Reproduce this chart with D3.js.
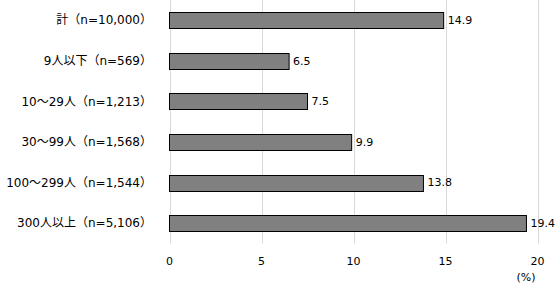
<!DOCTYPE html>
<html>
<head>
<meta charset="utf-8">
<script src="https://cdn.jsdelivr.net/npm/d3@7"></script>
<style>
  body { margin: 0; background: #fff; }
  text { font-family: "DejaVu Sans", "Noto Sans CJK JP", sans-serif; fill: #000; }
</style>
</head>
<body>
<svg width="555" height="284"></svg>
<script>
// categories and values
var categories = ['計（n=10,000）', '9人以下（n=569）', '10～29人（n=1,213）',
    '30～99人（n=1,568）', '100～299人（n=1,544）', '300人以上（n=5,106）'];
var values = [14.9, 6.5, 7.5, 9.9, 13.8, 19.4];
var ticks = [0, 5, 10, 15, 20];

var plotLeft = 169.5, plotRight = 537.5, plotTop = 0, plotBottom = 243.5;

var svg = d3.select('svg');

var x = d3.scaleLinear().domain([0, 20]).range([plotLeft, plotRight]);
var y = d3.scaleBand().domain(categories).range([plotTop, plotBottom]).paddingInner(0.6).paddingOuter(0.3);

// gridlines
svg.append('g')
    .selectAll('line')
    .data(ticks)
    .enter()
    .append('line')
    .attr('x1', function (d) { return Math.round(x(d)) + 0.5 })
    .attr('x2', function (d) { return Math.round(x(d)) + 0.5 })
    .attr('y1', plotTop)
    .attr('y2', plotBottom)
    .style('stroke', '#d9d9d9')
    .style('stroke-width', 1);

// tick labels
svg.append('g')
    .selectAll('text')
    .data(ticks)
    .enter()
    .append('text')
    .attr('x', function (d) { return x(d) })
    .attr('y', 261)
    .attr('dy', '0.35em')
    .attr('text-anchor', 'middle')
    .attr('font-size', '11px')
    .text(function (d) { return d });

svg.append('text')
    .attr('x', 526)
    .attr('y', 277)
    .attr('dy', '0.35em')
    .attr('text-anchor', 'middle')
    .attr('font-size', '11px')
    .text('(%)');

// bars
svg.append('g')
    .selectAll('rect')
    .data(values)
    .enter()
    .append('rect')
    .attr('x', x(0))
    .attr('y', function (d, i) { return Math.round(y(categories[i])) + 0.5 })
    .attr('width', function (d) { return x(d) - x(0) })
    .attr('height', Math.round(y.bandwidth()))
    .style('fill', '#808080')
    .style('stroke', '#000')
    .style('stroke-width', 1);

// value labels
svg.append('g')
    .selectAll('text')
    .data(values)
    .enter()
    .append('text')
    .attr('x', function (d) { return x(d) + 4 })
    .attr('y', function (d, i) { return y(categories[i]) + y.bandwidth() / 2 })
    .attr('dy', '0.35em')
    .attr('font-size', '11px')
    .text(function (d) { return d.toFixed(1) });

// category labels
svg.append('g')
    .selectAll('text')
    .data(categories)
    .enter()
    .append('text')
    .attr('x', 152)
    .attr('y', function (d) { return y(d) + y.bandwidth() / 2 })
    .attr('dy', '0.35em')
    .attr('text-anchor', 'end')
    .attr('font-size', '12px')
    .text(function (d) { return d });
</script>
</body>
</html>
